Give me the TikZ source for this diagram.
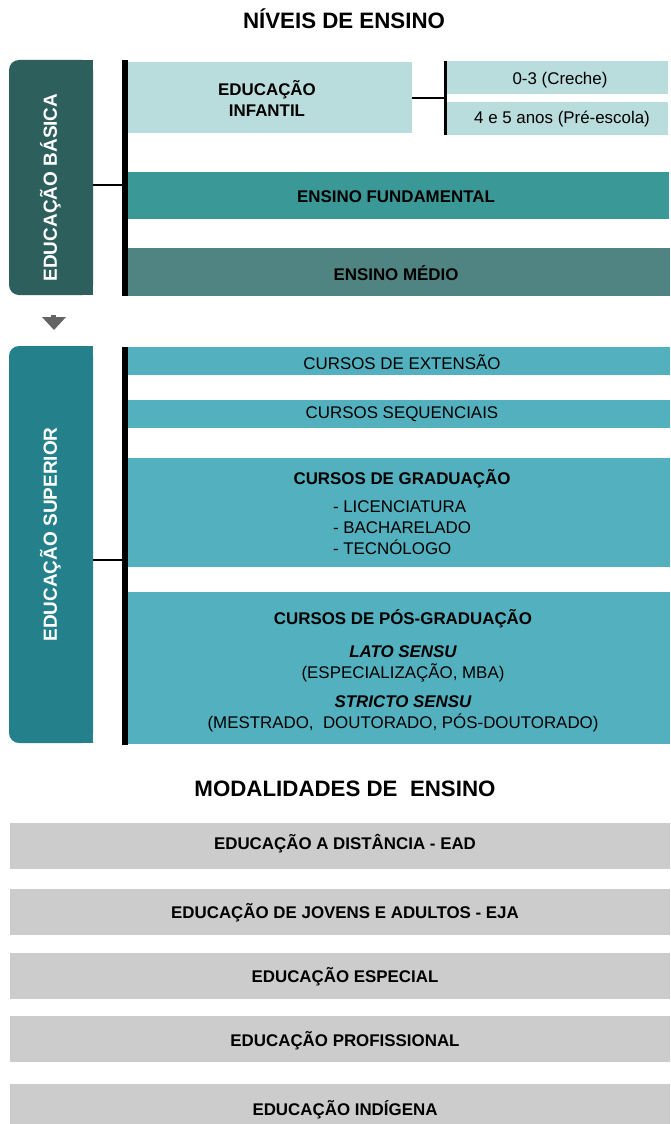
\documentclass[tikz,border=0pt]{standalone}
\usepackage{fontspec}
\setmainfont{Liberation Sans}
\definecolor{cBas}{RGB}{45,95,93}
\definecolor{cInf}{RGB}{185,220,220}
\definecolor{cFun}{RGB}{58,152,150}
\definecolor{cMed}{RGB}{80,132,130}
\definecolor{cSup}{RGB}{36,128,138}
\definecolor{cCur}{RGB}{83,176,190}
\definecolor{cMod}{RGB}{204,204,204}
\definecolor{cArr}{RGB}{100,100,100}
\begin{document}
\begin{tikzpicture}[x=1pt,y=-1pt,
  box/.style={inner sep=0pt, outer sep=0pt, anchor=north west, draw=none},
  txt/.style={inner sep=0pt, outer sep=0pt, text height=12.1pt, text depth=0pt, font=\fontsize{16.9}{19.5}\selectfont},
  btxt/.style={txt, font=\fontsize{16.9}{19.5}\selectfont\bfseries},
  bitxt/.style={txt, font=\fontsize{16.9}{19.5}\selectfont\bfseries\itshape},
  ttl/.style={inner sep=0pt, outer sep=0pt, text height=16pt, text depth=0pt, font=\fontsize{22.3}{26}\selectfont\bfseries},
  vtxt/.style={inner sep=0pt, outer sep=0pt, text height=13.6pt, text depth=0pt, rotate=90, text=white, font=\fontsize{19}{22}\selectfont\bfseries},
  bar/.style={line width=6pt},
  sbar/.style={line width=3pt},
  conn/.style={line width=2pt}]
\useasboundingbox (0,0) rectangle (670,1124);
\fill[white] (0,0) rectangle (670,1124);

% ---------- Title ----------
\node[ttl] (t1) at (344,20.5) {NÍVEIS DE ENSINO};

% ---------- Educação Básica ----------
\fill[cBas] (75,60) rectangle (93,295);
\node[box, fill=cBas, rounded corners=10pt, minimum width=84pt, minimum height=235pt] (bas) at (9,60) {};
\node[vtxt] (basT) at (50,187.5) {EDUCAÇÃO BÁSICA};

\coordinate (b1t) at (125,60);
\coordinate (b1b) at (125,296);
\draw[bar] (b1t) -- (b1b);
\draw[conn] ([yshift=-7pt]bas.east) -- ([yshift=-7pt]bas.east -| b1t);

\node[box, fill=cInf, minimum width=284pt, minimum height=71pt] (inf) at (128,62) {};
\node[btxt] (infT1) at (267,89) {EDUCAÇÃO};
\node[btxt] (infT2) at (267,110) {INFANTIL};

\coordinate (b2t) at (445.5,61);
\coordinate (b2b) at (445.5,135);
\draw[sbar] (b2t) -- (b2b);
\draw[conn] (inf.east) -- (inf.east -| b2t);

\node[box, fill=cInf, minimum width=221pt, minimum height=33pt] (cre) at (447,61) {};
\node[txt] (creT) at (560,78.5) {0-3 (Creche)};
\node[box, fill=cInf, minimum width=221pt, minimum height=33pt] (pre) at (447,102) {};
\node[txt] (preT) at (562,117.5) {4 e 5 anos (Pré-escola)};

\node[box, fill=cFun, minimum width=541pt, minimum height=47pt] (fun) at (128,172) {};
\node[btxt] (funT) at (396,196) {ENSINO FUNDAMENTAL};

\node[box, fill=cMed, minimum width=542pt, minimum height=48pt] (med) at (128,248) {};
\node[btxt] (medT) at (396,274) {ENSINO MÉDIO};

% ---------- arrow ----------
\fill[cArr] (51,315) rectangle (56,318);
\fill[cArr] (42,317) -- (66,317) -- (54,330) -- cycle;

% ---------- Educação Superior ----------
\fill[cSup] (75,346) rectangle (93,743);
\node[box, fill=cSup, rounded corners=10pt, minimum width=84pt, minimum height=397pt] (sup) at (9,346) {};
\node[vtxt] (supT) at (50,534.5) {EDUCAÇÃO SUPERIOR};

\coordinate (b3t) at (125,347);
\coordinate (b3b) at (125,745);
\draw[bar] (b3t) -- (b3b);
\draw[conn] ([yshift=-15.5pt]sup.east) -- ([yshift=-15.5pt]sup.east -| b3t);

\node[box, fill=cCur, minimum width=542pt, minimum height=28pt] (ext) at (128,347) {};
\node[txt] (extT) at (402,363) {CURSOS DE EXTENSÃO};

\node[box, fill=cCur, minimum width=542pt, minimum height=28pt] (seq) at (128,400) {};
\node[txt] (seqT) at (402,412) {CURSOS SEQUENCIAIS};

\node[box, fill=cCur, minimum width=542pt, minimum height=109pt] (gra) at (128,458) {};
\node[btxt] (graT) at (402,478) {CURSOS DE GRADUAÇÃO};
\node[txt, anchor=west] (graL) at (333,506) {- LICENCIATURA};
\node[txt, anchor=west] (graB) at (333,527) {- BACHARELADO};
\node[txt, anchor=west] (graTc) at (333,548) {- TECNÓLOGO};

\node[box, fill=cCur, minimum width=542pt, minimum height=152pt] (pos) at (128,592) {};
\node[btxt] (posT) at (403,618) {CURSOS DE PÓS-GRADUAÇÃO};
\node[bitxt] (posL) at (403,651) {LATO SENSU};
\node[txt] (posL2) at (403,672.5) {(ESPECIALIZAÇÃO, MBA)};
\node[bitxt] (posS) at (403,701.5) {STRICTO SENSU};
\node[txt] (posS2) at (403,722.5) {(MESTRADO,\ \ DOUTORADO, PÓS-DOUTORADO)};

% ---------- Modalidades ----------
\node[ttl] (t2) at (345,788.3) {MODALIDADES DE\ \ ENSINO};

\node[box, fill=cMod, minimum width=660pt, minimum height=46pt] (m1) at (10,823) {};
\node[btxt] (m1T) at (345,843) {EDUCAÇÃO A DISTÂNCIA - EAD};
\node[box, fill=cMod, minimum width=660pt, minimum height=46pt] (m2) at (10,889) {};
\node[btxt] (m2T) at (345,912.7) {EDUCAÇÃO DE JOVENS E ADULTOS - EJA};
\node[box, fill=cMod, minimum width=660pt, minimum height=46pt] (m3) at (10,953) {};
\node[btxt] (m3T) at (345,976) {EDUCAÇÃO ESPECIAL};
\node[box, fill=cMod, minimum width=660pt, minimum height=46pt] (m4) at (10,1016) {};
\node[btxt] (m4T) at (345,1040) {EDUCAÇÃO PROFISSIONAL};
\node[box, fill=cMod, minimum width=660pt, minimum height=40pt] (m5) at (10,1084) {};
\node[btxt] (m5T) at (345,1109) {EDUCAÇÃO INDÍGENA};
\end{tikzpicture}
\end{document}
